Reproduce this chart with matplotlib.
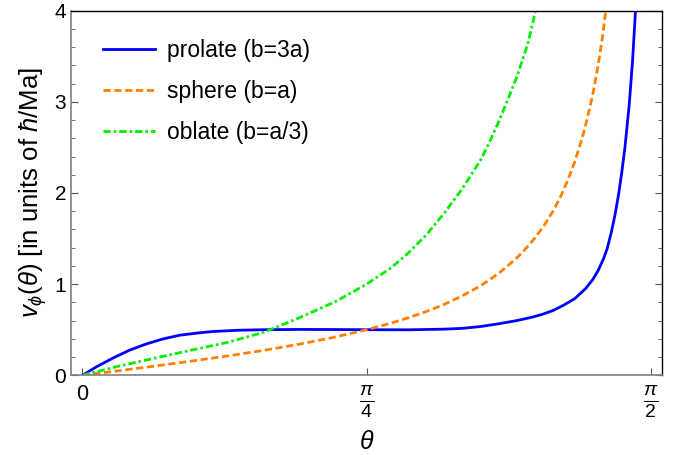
import numpy as np
import matplotlib
matplotlib.use('Agg')
import matplotlib.pyplot as plt
from matplotlib.ticker import MultipleLocator

# curves (theta in rad, v_phi in units of hbar/Ma)
theta_prolate = [0.0, 0.04, 0.085, 0.13, 0.176, 0.222, 0.268, 0.318, 0.36, 0.43,
                 0.5, 0.6, 0.7, 0.785, 0.9, 1.0, 1.05, 1.1, 1.15, 1.2, 1.24, 1.27,
                 1.30, 1.33, 1.36, 1.39, 1.41, 1.425, 1.44, 1.45, 1.462, 1.473,
                 1.482, 1.49, 1.499, 1.511, 1.52, 1.527, 1.532]
v_prolate = [0.0, 0.095, 0.19, 0.275, 0.343, 0.398, 0.439, 0.464, 0.48, 0.494,
             0.5, 0.503, 0.502, 0.5, 0.499, 0.506, 0.515, 0.535, 0.565, 0.60, 0.635, 0.668,
             0.71, 0.77, 0.84, 0.95, 1.05, 1.15, 1.28, 1.39, 1.58, 1.79,
             2.0, 2.22, 2.50, 2.98, 3.45, 3.92, 4.3]

theta_sphere = [0.0, 0.1, 0.2, 0.3, 0.4, 0.5, 0.6, 0.7, 0.785, 0.85, 0.9, 0.95, 1.0,
                1.05, 1.1, 1.15, 1.2, 1.225, 1.25, 1.275, 1.3, 1.32, 1.34, 1.36, 1.38,
                1.395, 1.41, 1.42, 1.43, 1.438, 1.446, 1.455]
v_sphere = [0.0, 0.05, 0.101, 0.155, 0.211, 0.273, 0.342, 0.421, 0.5, 0.569, 0.63, 0.699,
            0.779, 0.872, 0.982, 1.117, 1.286, 1.39, 1.505, 1.64, 1.80, 1.95, 2.13, 2.34,
            2.59, 2.82, 3.08, 3.29, 3.53, 3.74, 4.0, 4.3]

theta_oblate = [0.0, 0.1, 0.2, 0.3, 0.4, 0.5, 0.6, 0.7, 0.785, 0.85, 0.9, 0.95, 1.0,
                1.05, 1.1, 1.125, 1.15, 1.175, 1.2, 1.215, 1.23, 1.24, 1.25, 1.26]
v_oblate = [0.0, 0.10, 0.188, 0.275, 0.36, 0.47, 0.632, 0.81, 1.0, 1.17, 1.34, 1.54, 1.78,
            2.05, 2.36, 2.56, 2.78, 3.02, 3.27, 3.45, 3.63, 3.79, 3.97, 4.15]

labels = ['prolate (b=3a)', 'sphere (b=a)', 'oblate (b=a/3)']

plt.rcParams['font.family'] = ['Liberation Sans', 'DejaVu Sans']
plt.rcParams['mathtext.fontset'] = 'custom'
plt.rcParams['mathtext.rm'] = 'Liberation Sans'
plt.rcParams['mathtext.it'] = 'Liberation Sans:italic'
plt.rcParams['mathtext.fallback'] = 'stixsans'

fig = plt.figure(figsize=(6.84, 4.55), dpi=100)
ax = fig.add_axes([0.1038, 0.1752, 0.8645, 0.8013])

ax.plot(theta_prolate, v_prolate, color='#0000ff', lw=2.0, label=labels[0])
ax.plot(theta_sphere, v_sphere, color='#ff8000', lw=2.0, dashes=(2.6, 1.3), label=labels[1])
ax.plot(theta_oblate, v_oblate, color='#00ee00', lw=2.0, dashes=(2.6, 1.1, 0.9, 1.1),
        label=labels[2])

pad = 0.02 * np.pi / 2
ax.set_xlim(-pad, np.pi / 2 + pad)
ax.set_ylim(0, 4)

ax.set_xticks([0, np.pi / 4, np.pi / 2])
ax.set_xticklabels(['0', r'$\frac{\pi}{4}$', r'$\frac{\pi}{2}$'])
for lab in ax.get_xticklabels()[1:]:
    lab.set_fontsize(20)
ax.yaxis.set_major_locator(MultipleLocator(1))
ax.yaxis.set_minor_locator(MultipleLocator(0.2))
ax.tick_params(which='both', direction='in', right=True, top=False, color='#555555')
ax.tick_params(axis='y', labelsize=15)
ax.tick_params(which='major', length=5, width=0.8)
ax.tick_params(which='minor', length=3, width=0.6)
ax.tick_params(axis='x', pad=6)
ax.get_xticklabels()[0].set_fontsize(15.5)

for side in ['left', 'bottom']:
    ax.spines[side].set_color('#808080')
    ax.spines[side].set_linewidth(1.2)
for side in ['top', 'right']:
    ax.spines[side].set_color('black')
    ax.spines[side].set_linewidth(1.0)

ax.set_xlabel(r'$\theta$', fontsize=18, labelpad=7)
ax.set_ylabel(r'$v_\phi(\theta)$ [in units of $\hbar$/Ma]', fontsize=18.5, labelpad=4)

ax.legend(loc='upper left', bbox_to_anchor=(0.02, 0.98), frameon=False, fontsize=16.5,
          handlelength=2.27, handletextpad=0.52, labelspacing=0.8)

fig.savefig('out.png', dpi=100)
